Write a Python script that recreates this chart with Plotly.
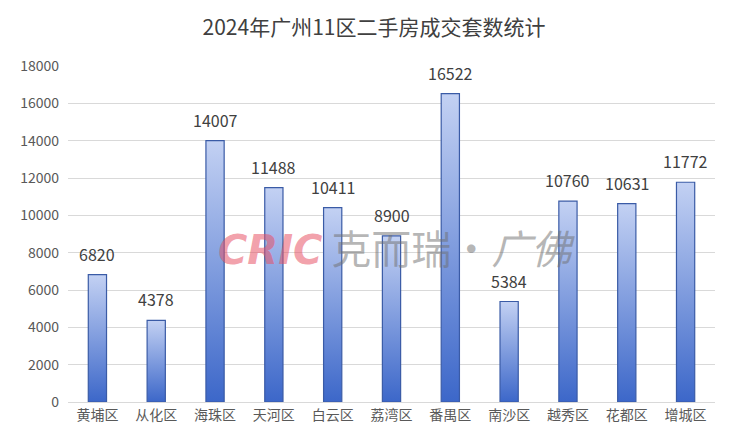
import plotly.graph_objects as go

# 2024年广州11区二手房成交套数
districts = ["黄埔区", "从化区", "海珠区", "天河区", "白云区", "荔湾区",
             "番禺区", "南沙区", "越秀区", "花都区", "增城区"]
deals = [6820, 4378, 14007, 11488, 10411, 8900, 16522, 5384, 10760, 10631, 11772]
y_ticks = list(range(0, 18001, 2000))

FONT = "Noto Sans CJK SC, Microsoft YaHei, sans-serif"
HALF = 0.155  # half bar width in category units

fig = go.Figure()

# watermark first so the value labels sit on top of it
fig.add_annotation(
    x=0.508, y=0.462, xref="paper", yref="paper",
    text="<b><i><span style='color:rgba(232,80,100,0.55);font-family:DejaVu Sans'>CRIC</span></i></b>"
         "<span style='color:rgba(110,110,110,0.5)'> 克而瑞·<i>广佛</i></span>",
    showarrow=False,
    font=dict(size=40, family=FONT),
    xanchor="center", yanchor="middle",
)

# gradient bars: one filled polygon per district (plotly bars can't do gradients)
for i, v in enumerate(deals):
    fig.add_trace(
        go.Scatter(
            x=[i - HALF, i - HALF, i + HALF, i + HALF, i - HALF],
            y=[0, v, v, 0, 0],
            mode="lines",
            fill="toself",
            fillgradient=dict(
                type="vertical",
                colorscale=[[0, "#3c67c9"], [1, "#c3d1f3"]],
            ),
            line=dict(color="#3a5ba6", width=1.2),
            hovertemplate=districts[i] + ": " + str(v) + "<extra></extra>",
            showlegend=False,
        )
    )

# value labels above each bar
for i, v in enumerate(deals):
    fig.add_annotation(
        x=i, y=v, text=str(v), showarrow=False,
        yanchor="bottom", yshift=7,
        font=dict(size=16, color="#404040", family=FONT),
    )

# page body adds an 8px margin, so the figure is sized to the visible area
fig.update_layout(
    width=732,
    height=437,
    margin=dict(l=60, r=25, t=58, b=43),
    paper_bgcolor="white",
    plot_bgcolor="white",
    title=dict(
        text="2024年广州11区二手房成交套数统计",
        x=0.5, xanchor="center", y=0.955, yanchor="middle",
        font=dict(size=21, color="#404040", family=FONT),
    ),
    font=dict(family=FONT, color="#595959"),
)

fig.update_xaxes(
    range=[-0.5, len(districts) - 0.5],
    tickvals=list(range(len(districts))),
    ticktext=districts,
    tickfont=dict(size=14, color="#595959"),
    showgrid=False,
    zeroline=False,
    showline=True,
    linecolor="#d9d9d9",
    linewidth=1,
    ticks="",
)

fig.update_yaxes(
    range=[0, 18000],
    tickvals=y_ticks,
    tickformat="d",
    tickfont=dict(size=14, color="#595959"),
    showgrid=True,
    gridcolor="#d9d9d9",
    gridwidth=1,
    zeroline=False,
    ticks="",
    ticklabelstandoff=8,
)

fig.write_html("out.html")
